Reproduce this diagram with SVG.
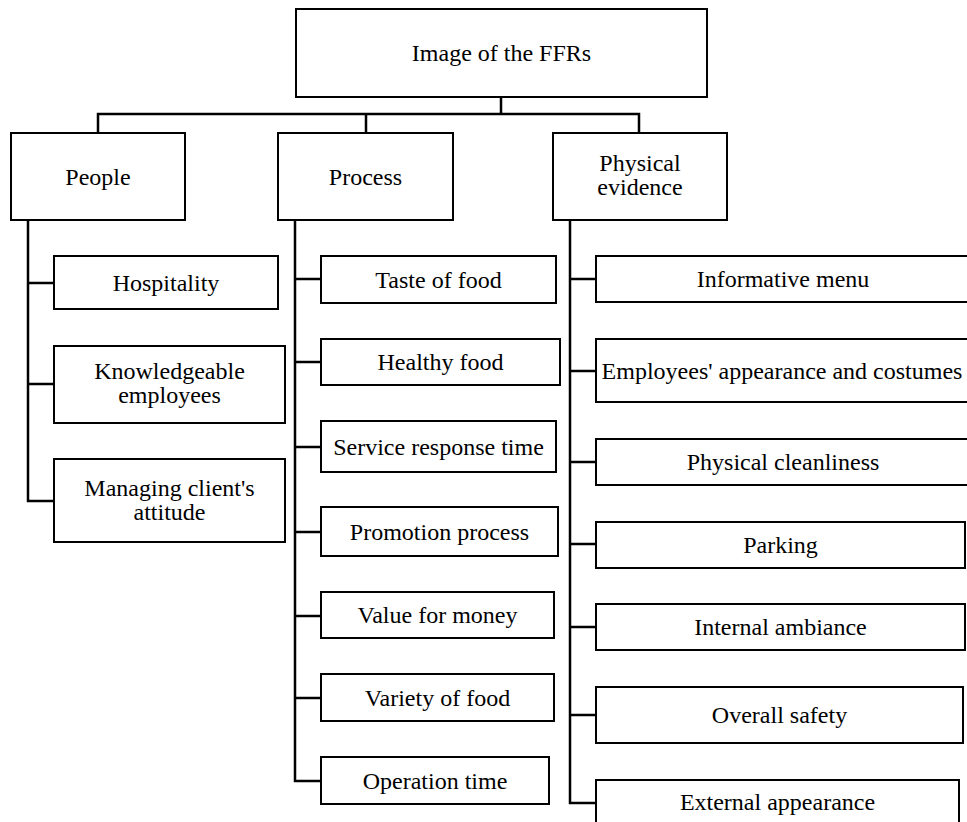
<svg xmlns="http://www.w3.org/2000/svg" width="967" height="822" viewBox="0 0 967 822">
<style>
  .box { fill: #ffffff; stroke: #000000; stroke-width: 2; }
  .lbl { font-family: "Liberation Serif", "Times New Roman", serif; font-size: 24px; fill: #000000; text-anchor: middle; }
  .conn { fill: none; stroke: #000000; stroke-width: 2.5; stroke-linejoin: miter; }
</style>
<rect width="967" height="822" fill="#ffffff"/>
<g id="connectors">
  <path class="conn" d="M501,97 V114 M98,133 V114 H639 V133 M366,114 V133"/>
  <path class="conn" d="M28,220 V501 H54 M28,283 H54 M28,384 H54"/>
  <path class="conn" d="M295,220 V781 H321 M295,279 H321 M295,362 H321 M295,447 H321 M295,532 H321 M295,616 H321 M295,698 H321"/>
  <path class="conn" d="M570,220 V803 H596 M570,279 H596 M570,371 H596 M570,462 H596 M570,544 H596 M570,627 H596 M570,715 H596"/>
</g>
<g id="root"><rect class="box" x="296" y="9" width="411" height="88"/><text class="lbl" x="501.5" y="61">Image of the FFRs</text></g>
<g id="people"><rect class="box" x="11" y="133" width="174" height="87"/><text class="lbl" x="98" y="185">People</text></g>
<g id="process"><rect class="box" x="278" y="133" width="175" height="87"/><text class="lbl" x="365.5" y="185">Process</text></g>
<g id="physical"><rect class="box" x="553" y="133" width="174" height="87"/><text class="lbl" x="640" y="171">Physical</text><text class="lbl" x="640" y="195">evidence</text></g>

<g id="hospitality"><rect class="box" x="54" y="256" width="224" height="53"/><text class="lbl" x="166" y="291">Hospitality</text></g>
<g id="knowledgeable"><rect class="box" x="54" y="346" width="231" height="77"/><text class="lbl" x="169.5" y="379">Knowledgeable</text><text class="lbl" x="169.5" y="403">employees</text></g>
<g id="managing"><rect class="box" x="54" y="459" width="231" height="83"/><text class="lbl" x="169.5" y="496">Managing client's</text><text class="lbl" x="169.5" y="520">attitude</text></g>

<g id="taste"><rect class="box" x="321" y="256" width="235" height="47"/><text class="lbl" x="438.5" y="287.5">Taste of food</text></g>
<g id="healthy"><rect class="box" x="321" y="339" width="239" height="46"/><text class="lbl" x="440.5" y="370">Healthy food</text></g>
<g id="service"><rect class="box" x="321" y="421" width="235" height="51"/><text class="lbl" x="438.5" y="454.5">Service response time</text></g>
<g id="promotion"><rect class="box" x="321" y="507" width="237" height="49"/><text class="lbl" x="439.5" y="539.5">Promotion process</text></g>
<g id="value"><rect class="box" x="321" y="592" width="233" height="46"/><text class="lbl" x="437.5" y="623">Value for money</text></g>
<g id="variety"><rect class="box" x="321" y="674" width="233" height="47"/><text class="lbl" x="437.5" y="705.5">Variety of food</text></g>
<g id="operation"><rect class="box" x="321" y="757" width="228" height="47"/><text class="lbl" x="435" y="788.5">Operation time</text></g>

<g id="informative"><rect class="box" x="596" y="256" width="373" height="46"/><text class="lbl" x="783" y="287">Informative menu</text></g>
<g id="employees"><rect class="box" x="596" y="339" width="373" height="63"/><text class="lbl" x="782" y="378.5">Employees' appearance and costumes</text></g>
<g id="cleanliness"><rect class="box" x="596" y="439" width="373" height="46"/><text class="lbl" x="783" y="470">Physical cleanliness</text></g>
<g id="parking"><rect class="box" x="596" y="522" width="369" height="46"/><text class="lbl" x="780.5" y="553">Parking</text></g>
<g id="internal"><rect class="box" x="596" y="604" width="369" height="46"/><text class="lbl" x="780.5" y="635">Internal ambiance</text></g>
<g id="safety"><rect class="box" x="596" y="687" width="367" height="56"/><text class="lbl" x="779.5" y="723">Overall safety</text></g>
<g id="external"><rect class="box" x="596" y="780" width="363" height="46"/><text class="lbl" x="777.5" y="810">External appearance</text></g>
</svg>
